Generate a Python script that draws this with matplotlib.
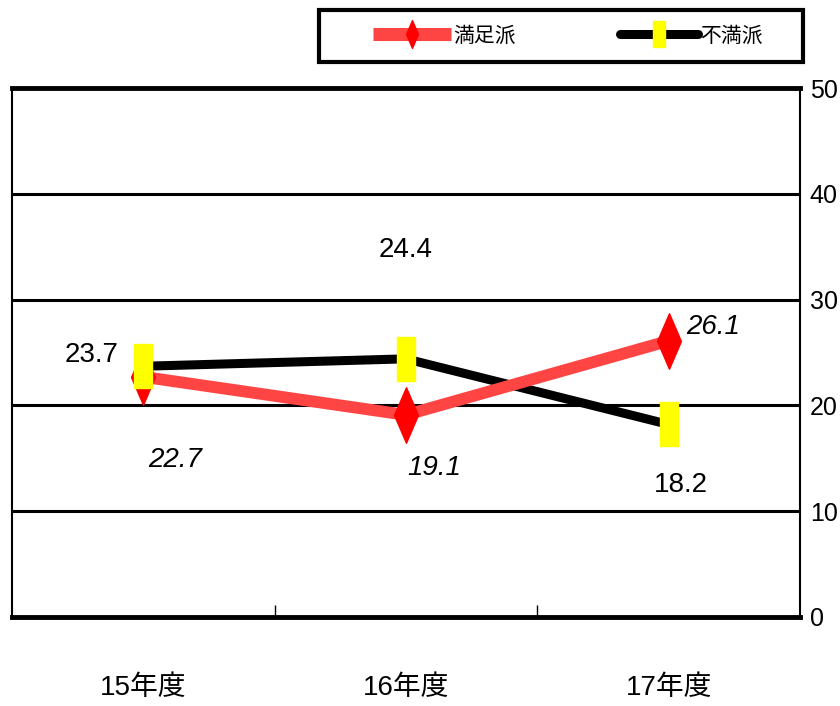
import matplotlib
matplotlib.use("Agg")
import matplotlib.pyplot as plt
from matplotlib.path import Path
from matplotlib.lines import Line2D
from matplotlib.patches import Rectangle

categories = ["15年度", "16年度", "17年度"]
satisfied = [22.7, 19.1, 26.1]
dissatisfied = [23.7, 24.4, 18.2]
series_names = ["満足派", "不満派"]
yticks = [0, 10, 20, 30, 40, 50]

FAM = ["Liberation Sans", "Noto Sans CJK JP", "DejaVu Sans"]
plt.rcParams["font.family"] = FAM

fig = plt.figure(figsize=(8.4, 7.06), dpi=100)
ax = fig.add_axes([12/840, 1-617/706, 788/840, (617-88)/706])

x = list(range(len(categories)))
ax.set_xlim(-0.5, len(categories) - 0.5)
ax.set_ylim(0, 50)

# gridlines
for v in yticks[1:-1]:
    ax.axhline(v, color="black", lw=2.2, zorder=1)

for s in ["left", "right"]:
    ax.spines[s].set_linewidth(1.5)
for s in ["top", "bottom"]:
    ax.spines[s].set_linewidth(3.5)

diamond = Path([(0, 1), (0.43, 0), (0, -1), (-0.43, 0), (0, 1)],
               [Path.MOVETO, Path.LINETO, Path.LINETO, Path.LINETO, Path.CLOSEPOLY])
rect = Path([(-0.44, 1), (0.44, 1), (0.44, -1), (-0.44, -1), (-0.44, 1)],
            [Path.MOVETO, Path.LINETO, Path.LINETO, Path.LINETO, Path.CLOSEPOLY])

ax.plot(x, dissatisfied, color="black", lw=6.5, zorder=3, solid_capstyle="butt")
ax.plot(x, satisfied, color="#FF4444", lw=8.5, zorder=4, solid_capstyle="butt")
ax.plot(x, satisfied, ls="none", marker=diamond, markersize=40,
        markerfacecolor="#FF0000", markeredgecolor="#FF0000", zorder=5)
ax.plot(x, dissatisfied, ls="none", marker=rect, markersize=31,
        markerfacecolor="#FFFF00", markeredgecolor="#FFFF00", zorder=6)

# axes ticks
ax.yaxis.tick_right()
ax.set_yticks(yticks)
ax.set_yticklabels([str(v) for v in yticks], fontsize=18)
ax.tick_params(axis="y", length=0, pad=7)
ax.set_xticks([i + 0.5 for i in x[:-1]])
ax.set_xticklabels([])
ax.tick_params(axis="x", direction="in", length=9, width=1)
for i, c in enumerate(categories):
    ax.text(i, -6.7, c, ha="center", va="center", fontsize=20, clip_on=False)

# data labels
lab_kw = dict(fontsize=20, va="center")
ax.text(x[0] - 0.095, dissatisfied[0] + 1.1, f"{dissatisfied[0]}", ha="right", **lab_kw)
ax.text(x[1], dissatisfied[1] + 10.3, f"{dissatisfied[1]}", ha="center", **lab_kw)
ax.text(x[2] + 0.045, dissatisfied[2] - 5.7, f"{dissatisfied[2]}", ha="center", **lab_kw)
ax.text(x[0] + 0.12, satisfied[0] - 7.9, f"{satisfied[0]}", ha="center", style="italic", **lab_kw)
ax.text(x[1] + 0.106, satisfied[1] - 5.0, f"{satisfied[1]}", ha="center", style="italic", **lab_kw)
ax.text(x[2] + 0.068, satisfied[2] + 1.3, f"{satisfied[2]}", ha="left", style="italic", **lab_kw)

# legend
fig.patches.append(Rectangle((319/840, 1-62/706), 484/840, 52/706,
                             transform=fig.transFigure, fill=False,
                             edgecolor="black", lw=3, zorder=10))
handles = [
    Line2D([], [], color="#FF4444", lw=9.4, marker=diamond, markersize=20,
           markerfacecolor="#FF0000", markeredgecolor="#FF0000", solid_capstyle="butt"),
    Line2D([], [], color="black", lw=6.5, marker=rect, markersize=19,
           markerfacecolor="#FFFF00", markeredgecolor="#FFFF00", solid_capstyle="round"),
]
leg = fig.legend(handles, series_names, loc="center",
                 bbox_to_anchor=(568/840, 1-36/706),
                 ncol=2, frameon=False, fontsize=15,
                 handlelength=3.75, handletextpad=0.1, columnspacing=5.0,
                 borderaxespad=0, borderpad=0)

fig.savefig("out.png", dpi=100)
